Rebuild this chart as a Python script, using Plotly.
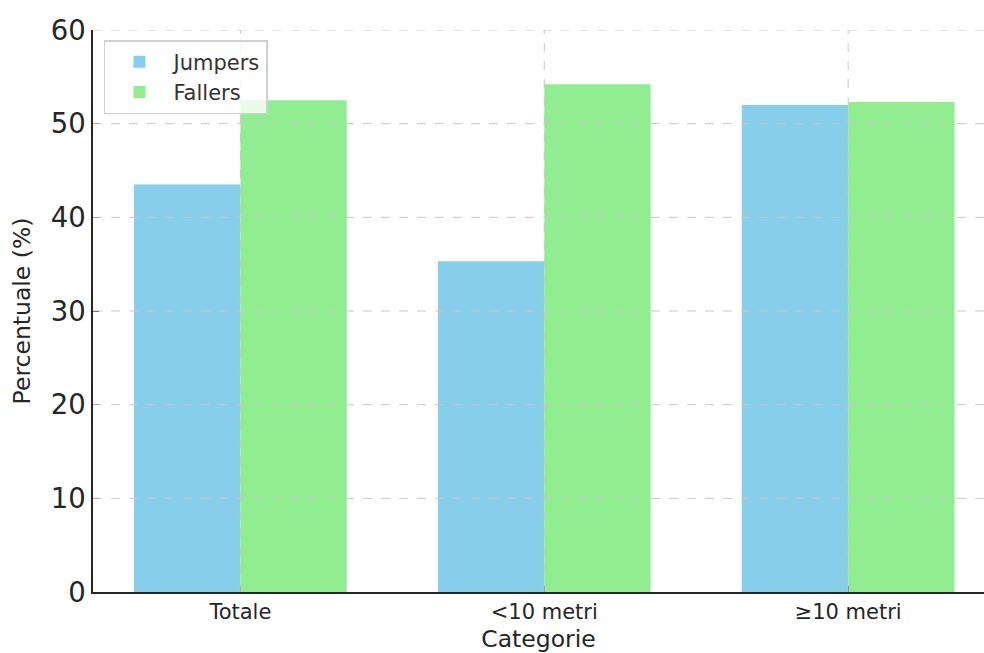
import plotly.graph_objects as go

categories = ["Totale", "<10 metri", "≥10 metri"]
jumpers = [43.5, 35.3, 52.0]
fallers = [52.5, 54.2, 52.3]
y_ticks = [0, 10, 20, 30, 40, 50, 60]

font_family = "DejaVu Sans"
text_color = "#262626"
grid_color = "#c8c8c8"

fig = go.Figure()
fig.add_trace(go.Bar(name="Jumpers", x=categories, y=jumpers, width=0.35, offset=-0.35,
                     marker=dict(color="#87CEEB", line=dict(width=0))))
fig.add_trace(go.Bar(name="Fallers", x=categories, y=fallers, width=0.35, offset=0.0,
                     marker=dict(color="#90EE90", line=dict(width=0))))

# grid lines drawn above the bars (like the reference)
for t in y_ticks[1:]:
    fig.add_shape(type="line", xref="x domain", yref="y", x0=0, x1=1, y0=t, y1=t,
                  line=dict(color=grid_color, width=1, dash="dash"), layer="above")
for c in categories:
    fig.add_shape(type="line", xref="x", yref="y domain", x0=c, x1=c, y0=0, y1=1,
                  line=dict(color=grid_color, width=1, dash="dash"), layer="above")

fig.update_layout(
    width=984, height=653,
    margin=dict(l=93, r=0, t=30, b=61, autoexpand=False),
    plot_bgcolor="white", paper_bgcolor="white",
    barmode="group",
    font=dict(family=font_family, color=text_color),
    showlegend=True,
    legend=dict(x=0.0123, y=0.982, xanchor="left", yanchor="top",
                bgcolor="rgba(255,255,255,0.8)", bordercolor="#d0d0d0", borderwidth=1.5,
                font=dict(size=21, color="#333333"), itemwidth=58, tracegroupgap=2),
    xaxis=dict(type="category", range=[-0.485, 2.447], showgrid=False, automargin=False,
               showline=True, linecolor=text_color, linewidth=1.6,
               ticks="inside", ticklen=6, tickcolor=text_color, tickwidth=1.2,
               tickfont=dict(size=21, color=text_color),
               title=dict(text="Categorie", font=dict(size=23.5, color=text_color), standoff=13),
               zeroline=False),
    yaxis=dict(range=[0, 60], tickvals=y_ticks, showgrid=False, automargin=False,
               showline=True, linecolor=text_color, linewidth=1.6,
               ticks="inside", ticklen=6, tickcolor=text_color, tickwidth=1.2,
               tickfont=dict(size=27.5, color=text_color),
               title=dict(text="Percentuale (%)", font=dict(size=23.5, color=text_color), standoff=13),
               zeroline=False),
)

fig.write_html("out.html", config={"displayModeBar": False},
               post_script="document.body.style.margin='0';document.body.style.overflow='hidden';")
